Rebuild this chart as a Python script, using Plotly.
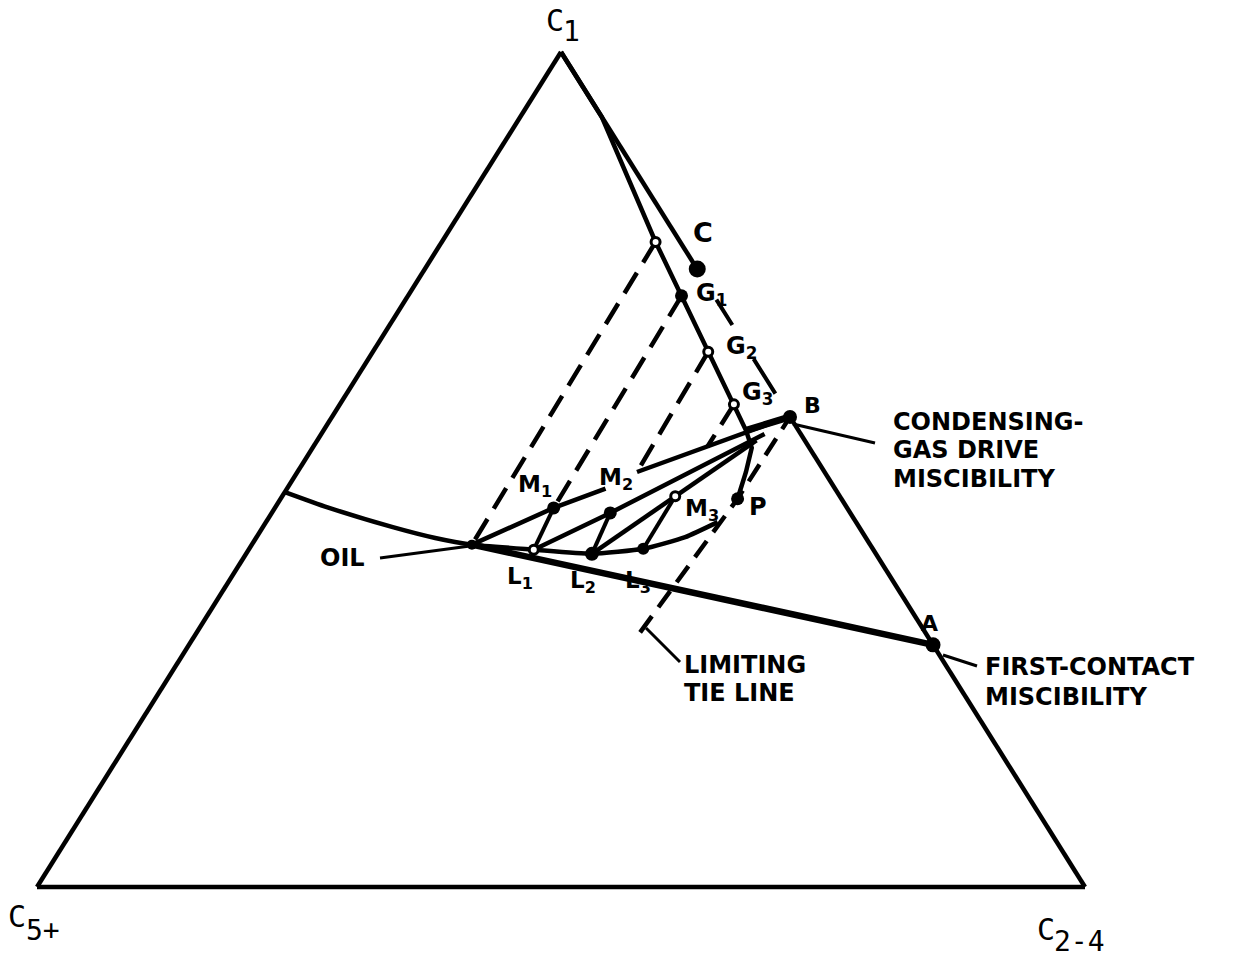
import plotly.graph_objects as go

# ---------------------------------------------------------------
# Compositions in percent: (C1, C2-4); C5+ is the balance.
# ---------------------------------------------------------------
VERTEX_C1 = (100.0, 0.0)
VERTEX_C5 = (0.0, 0.0)
VERTEX_C24 = (0.0, 100.0)

OIL = (41.0, 21.0)
GAS_C = (74.0, 26.0)
GAS_B = (56.3, 43.7)
GAS_A = (29.0, 71.0)
CRIT_P = (46.5, 43.6)

# equilibrium gases on the dew-point side (G0 is the unlabelled first one)
G_C1 = [77.25, 70.8, 64.1, 57.8]
G_C24 = [20.4, 26.1, 32.0, 37.6]
# equilibrium liquids L1..L3
L_C1 = [40.4, 39.9, 40.5]
L_C24 = [27.2, 33.0, 37.6]
# mixtures
M1 = (45.4, 26.6)
M2 = (49.7, 32.4)
M2_LOW = (44.8, 32.3)
M3 = (46.8, 37.5)
M4 = (52.7, 37.6)

# phase envelope: dew-point branch (from C1 down to the plait point)
DEW_C1 = [100.0, 92.2, 77.25, 70.8, 64.1, 57.8, 54.7, 52.6, 49.7, 46.5]
DEW_C24 = [0.0, 7.8, 20.4, 26.1, 32.0, 37.6, 40.3, 41.9, 42.8, 43.6]
# bubble-point branch (from the C1-C5+ side towards the plait point)
BUB_C1 = [47.3, 45.5, 43.1, 41.8, 41.0, 40.4, 39.9, 40.5, 41.9, 43.7]
BUB_C24 = [0.0, 4.9, 12.4, 17.1, 21.0, 27.2, 33.0, 37.6, 40.9, 43.1]

# mixing-line end points near the injection gas
MIX1_END = (47.7, 30.4)
MIX2_END = (55.9, 42.9)
MIX3_END = (54.25, 42.3)
MIX4_END = (53.5, 41.9)
# lower end of the limiting tie line
LIMIT_END = (30.5, 42.3)

W, H = 1241, 960
X0PX, X1PX, YBASE, YTOP = 37, 1085, 887, 52


def tern(c1, c24):
    """Project a (C1, C2-4) composition onto the triangle plane."""
    return c24 / 100.0 + c1 / 200.0, c1 / 100.0


def pts(comps):
    xs, ys = [], []
    for a, b in comps:
        x, y = tern(a, b)
        xs.append(x)
        ys.append(y)
    return xs, ys


fig = go.Figure()
BLACK = "#000000"


def curve(comps, width=4.5):
    xs, ys = pts(comps)
    fig.add_trace(go.Scatter(
        x=xs, y=ys, mode="lines", hoverinfo="skip", showlegend=False,
        line=dict(color=BLACK, width=width, shape="spline", smoothing=0.5),
    ))


def straight(comps, width=4.5, dash=None):
    xs, ys = pts(comps)
    fig.add_trace(go.Scatter(
        x=xs, y=ys, mode="lines", hoverinfo="skip", showlegend=False,
        line=dict(color=BLACK, width=width, dash=dash),
    ))


TIE_DASH = "24px,12px"

# triangle sides
straight([VERTEX_C5, VERTEX_C1], 4.5)
straight([VERTEX_C5, VERTEX_C24], 4.5)
straight([VERTEX_C1, GAS_C], 4.5)
straight([GAS_C, GAS_B], 4.0, "0px,36px,30px,40px,41px,100px")
straight([GAS_B, VERTEX_C24], 4.5)

# phase envelope
straight(list(zip(DEW_C1, DEW_C24)), 4.5)
curve(list(zip(BUB_C1, BUB_C24)), 4.5)

# first-contact dilution line
straight([OIL, GAS_A], 6.5)

# tie lines
G = list(zip(G_C1, G_C24))
L = list(zip(L_C1, L_C24))
straight([G[0], OIL], 4.5, TIE_DASH)
straight([G[1], M1], 4.5, TIE_DASH)
straight([M1, L[0]], 4.0)
straight([G[2], M2], 4.5, TIE_DASH)
straight([M2_LOW, L[1]], 4.0)
straight([G[3], M4], 4.5, TIE_DASH)
straight([M3, L[2]], 4.0)

# mixing lines
straight([OIL, M1, MIX1_END], 4.5)
straight([M2, MIX2_END], 4.5)
straight([L[0], M2_LOW, MIX3_END], 4.5)
straight([L[1], M3, MIX4_END], 4.5)
straight([(DEW_C1[6], DEW_C24[6]), GAS_B], 7)

# limiting tie line
straight([LIMIT_END, CRIT_P, GAS_B], 4.5, "20px,11px")

# points
filled = [GAS_C, G[1], M1, M2_LOW, L[1], L[2], GAS_A, GAS_B, CRIT_P, OIL]
filled_size = [17, 13, 13, 13, 14, 12, 15, 14, 13, 10]
xs, ys = pts(filled)
fig.add_trace(go.Scatter(x=xs, y=ys, mode="markers", hoverinfo="skip", showlegend=False,
                         marker=dict(color=BLACK, size=filled_size, opacity=1, line=dict(width=0))))
hollow = [G[0], G[2], G[3], L[0], M3]
xs, ys = pts(hollow)
fig.add_trace(go.Scatter(x=xs, y=ys, mode="markers", hoverinfo="skip", showlegend=False,
                         marker=dict(color="white", size=9, opacity=1, line=dict(width=3, color=BLACK))))


def px(x, y):
    return x / W, 1 - y / H


ann = []


def label(text, x, y, size=25, family="DejaVu Sans", xanchor="center"):
    xp, yp = px(x, y)
    ann.append(dict(text=text, x=xp, y=yp, xref="paper", yref="paper", showarrow=False,
                    xanchor=xanchor, yanchor="middle",
                    font=dict(family=family, size=size, color=BLACK)))


MONO = "DejaVu Sans Mono"
label("C", 555, 21, 30, MONO)
label("1", 571, 31, 28, MONO)
label("C", 17, 916, 30, MONO)
label("5+", 43, 930, 28, MONO)
label("C", 1046, 929, 30, MONO)
label("2-4", 1079, 941, 28, MONO)

SANS = "DejaVu Sans"
label("<b>C</b>", 703, 232, 27, SANS)
label("<b>G<sub>1</sub></b>", 711, 294, 24, SANS)
label("<b>G<sub>2</sub></b>", 741, 347, 24, SANS)
label("<b>G<sub>3</sub></b>", 757, 393, 24, SANS)
label("<b>B</b>", 813, 405, 22, SANS)
label("<b>M<sub>1</sub></b>", 535, 486, 23, SANS)
label("<b>M<sub>2</sub></b>", 616, 479, 23, SANS)
label("<b>M<sub>3</sub></b>", 702, 510, 23, SANS)
label("<b>P</b>", 758, 507, 24, SANS)
label("<b>L<sub>1</sub></b>", 520, 578, 23, SANS)
label("<b>L<sub>2</sub></b>", 583, 582, 23, SANS)
label("<b>L<sub>3</sub></b>", 638, 582, 23, SANS)
label("<b>A</b>", 929, 623, 22, SANS)


def note(text, x, y):
    label("<b>" + text + "</b>", x, y, 24, SANS, xanchor="left")


note("OIL", 318, 558)
note("CONDENSING-", 891, 422)
note("GAS DRIVE", 891, 450)
note("MISCIBILITY", 891, 479)
note("LIMITING", 682, 665)
note("TIE LINE", 682, 693)
note("FIRST-CONTACT", 983, 667)
note("MISCIBILITY", 983, 697)

shapes = []
for (xa, ya, xb, yb) in [(380, 558, 470, 546), (793, 424, 875, 443),
                         (943, 655, 977, 666), (646, 628, 680, 662)]:
    p0 = px(xa, ya)
    p1 = px(xb, yb)
    shapes.append(dict(type="line", xref="paper", yref="paper", x0=p0[0], y0=p0[1],
                       x1=p1[0], y1=p1[1], line=dict(color=BLACK, width=3)))

fig.update_layout(
    width=W, height=H, margin=dict(l=0, r=0, t=0, b=0),
    paper_bgcolor="white", plot_bgcolor="white",
    xaxis=dict(range=[-X0PX / (X1PX - X0PX), (W - X0PX) / (X1PX - X0PX)], visible=False, fixedrange=True),
    yaxis=dict(range=[-(H - YBASE) / (YBASE - YTOP), YBASE / (YBASE - YTOP)], visible=False, fixedrange=True),
    annotations=ann, shapes=shapes, showlegend=False,
)

fig.write_html("out.html")
